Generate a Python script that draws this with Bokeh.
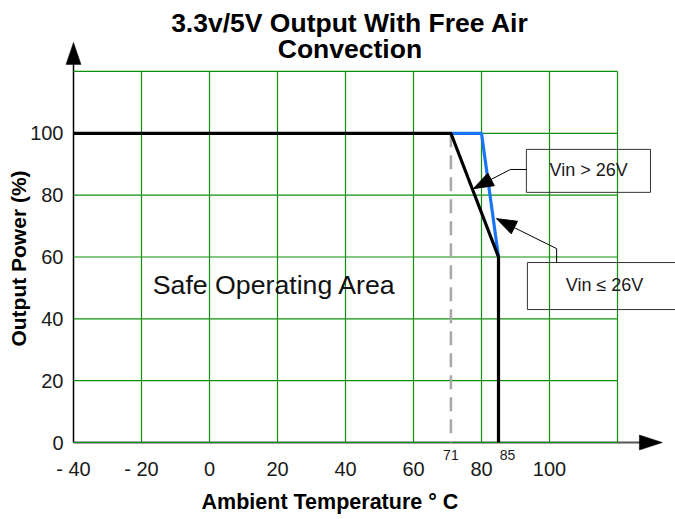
import math
from bokeh.plotting import figure
from bokeh.models import Range1d, FixedTicker, Label
from bokeh.core.properties import value
from bokeh.embed import file_html
from bokeh.resources import INLINE

# ---------------- data ----------------
x_ticks = [-40, -20, 0, 20, 40, 60, 80, 100]
x_tick_labels = {-40: "- 40", -20: "- 20"}
y_ticks = [0, 20, 40, 60, 80, 100]
grid_x = [-20, 0, 20, 40, 60, 80, 100, 120]
grid_y = [0, 20, 40, 60, 80, 100, 120]

black_x = [-40, 71, 85, 85]          # derating curve
black_y = [100, 100, 60, 0]
blue_x = [71, 80, 85]                # second derating curve
blue_y = [100, 100, 60]
dash_x = [71, 71]                    # 71 °C marker
dash_y = [100, 0]
marks = ["71", "85"]
mark_x = [71, 85]

title_lines = ["3.3v/5V Output With Free Air", "Convection"]
x_label = "Ambient Temperature  \u00b0 C"
y_label = "Output Power (%)"
area_text = "Safe Operating Area"
box_texts = ["Vin > 26V", "Vin \u2264 26V"]

# ---------------- layout ----------------
W, H = 675, 519
AX_PX, AY_PX = 73, 442       # pixel position of x=-40 / y=0
SX, SY = 3.4, 3.092          # px per data unit
X0 = -40 - AX_PX / SX
X1 = X0 + W / SX
Y0 = -(H - AY_PX) / SY
Y1 = AY_PX / SY
FONT = "Liberation Sans"

p = figure(width=W, height=H, x_range=Range1d(X0, X1), y_range=Range1d(Y0, Y1),
           min_border=0, output_backend="svg", toolbar_location=None)
p.outline_line_color = None
p.xgrid.visible = False
p.ygrid.visible = False

for ax in (p.xaxis[0], p.yaxis[0]):
    ax.major_tick_line_color = None
    ax.minor_tick_line_color = None
    ax.major_tick_out = 0
    ax.major_tick_in = 0
    ax.minor_tick_out = 0
    ax.axis_line_color = None
    ax.major_label_text_font = FONT
    ax.major_label_text_font_size = "20px"
    ax.major_label_text_color = "#1a1a1a"
p.xaxis.ticker = FixedTicker(ticks=x_ticks)
p.xaxis.major_label_overrides = x_tick_labels
p.xaxis.major_label_standoff = 15
p.xaxis.fixed_location = 0
p.yaxis.ticker = FixedTicker(ticks=y_ticks)
p.yaxis.major_label_standoff = 10
p.yaxis.fixed_location = -40

# axis lines
p.line([-40, -40], [0, 126], line_color="black", line_width=1.5)
p.line([-40, 128], [0, 0], line_color="#555555", line_width=2)

# grid
GREEN = "#0f8f0f"
p.segment(x0=grid_x, y0=[0] * len(grid_x), x1=grid_x, y1=[120] * len(grid_x),
          line_color=GREEN, line_width=1.2)
p.segment(x0=[-40] * len(grid_y), y0=grid_y, x1=[120] * len(grid_y), y1=grid_y,
          line_color=GREEN, line_width=1.2)

# curves
p.line(dash_x, dash_y, line_color="#a8a8a8", line_width=2.5, line_dash="14 8")
p.line(blue_x, blue_y, line_color="#1a75f5", line_width=3.2)
p.line(black_x, black_y, line_color="black", line_width=3.2)


def head(tx, ty, fx, fy, Lp, Wp):
    dx, dy = (tx - fx) * SX, (ty - fy) * SY
    n = math.hypot(dx, dy)
    ux, uy = dx / n, dy / n
    bx, by = tx * SX - ux * Lp, ty * SY - uy * Lp
    nx, ny = -uy, ux
    xs = [tx * SX, bx + nx * Wp / 2, bx - nx * Wp / 2]
    ys = [ty * SY, by + ny * Wp / 2, by - ny * Wp / 2]
    return [v / SX for v in xs], [v / SY for v in ys]


# axis arrowheads
hx, hy = head(-40, 129.4, -40, 120, 22, 15)
p.patch(hx, hy, fill_color="black", line_color="black", line_width=0.5)
hx, hy = head(133.2, 0, 120, 0, 23, 15)
p.patch(hx, hy, fill_color="black", line_color="black", line_width=0.5)

# callout boxes
p.quad(left=[93.2, 93.5], right=[129.7, 140], top=[94.8, 58.2], bottom=[80.9, 43.0],
       fill_alpha=0, line_color="#333333", line_width=1)
p.line([93.2, 88.5, 79.5], [88.3, 88.3, 83.2], line_color="black", line_width=1)
p.line([102.1, 102.1, 86.5], [58.2, 62.7, 71.2], line_color="black", line_width=1)
hx, hy = head(77.6, 82.1, 88.5, 88.3, 20, 14)
p.patch(hx, hy, fill_color="black", line_color="black")
hx, hy = head(84.4, 72.4, 102.1, 62.7, 20, 14)
p.patch(hx, hy, fill_color="black", line_color="black")
p.text(x=[111.5, 116.2], y=[88.0, 50.8], text=box_texts, text_font=value(FONT),
       text_font_size="18px", text_align="center", text_baseline="middle", text_color="#1a1a1a")

# small marks under the axis
p.text(x=mark_x, y=[0, 0], text=marks, x_offset=[0, 9], y_offset=[12, 12],
       text_font=value(FONT), text_font_size="14px", text_align="center",
       text_baseline="middle", text_color="#1a1a1a")

# area label
p.text(x=[19.1], y=[50.8], text=[area_text], text_font=value(FONT), text_font_size="26.7px",
       text_align="center", text_baseline="middle", text_color="#111111")

# chart title and axis titles
p.add_layout(Label(x=41.3, y=135.8, text=title_lines[0], text_font=FONT, text_font_size="26.5px",
                   text_font_style="bold", text_align="center", text_baseline="middle",
                   text_color="black"))
p.add_layout(Label(x=41.3, y=127.4, text=title_lines[1], text_font=FONT, text_font_size="26.5px",
                   text_font_style="bold", text_align="center", text_baseline="middle",
                   text_color="black"))
p.add_layout(Label(x=36.3, y=-19.4, text=x_label, text_font=FONT, text_font_size="21.5px",
                   text_font_style="bold", text_align="center", text_baseline="middle",
                   text_color="black"))
p.add_layout(Label(x=-56.2, y=59.5, angle=math.pi / 2, text=y_label, text_font=FONT,
                   text_font_size="21px", text_font_style="bold", text_align="center",
                   text_baseline="middle", text_color="black"))

open("out.html", "w").write(file_html(p, INLINE))
